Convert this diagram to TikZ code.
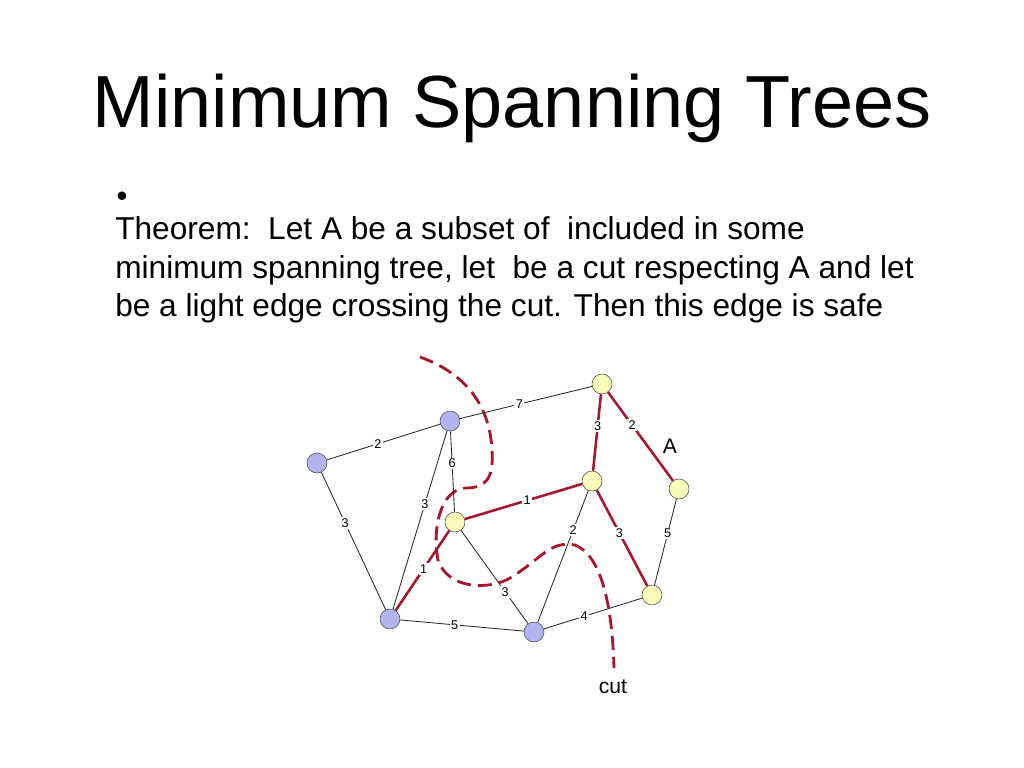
\documentclass[tikz,border=0pt]{standalone}
\usepackage{fontspec}
\setmainfont{Liberation Sans}
\usetikzlibrary{calc}
\definecolor{cutred}{RGB}{170,20,45}
\definecolor{blueV}{RGB}{178,180,240}
\definecolor{yellowV}{RGB}{250,250,185}
\begin{document}
\begin{tikzpicture}[x=0.025cm,y=-0.025cm]
\tikzset{bluenode/.style={circle,draw=black!70,fill=blueV,minimum size=20*0.025cm,inner sep=0pt},
yellownode/.style={circle,draw=black!70,fill=yellowV,minimum size=20*0.025cm,inner sep=0pt},
edgelbl/.style={fill=white,inner sep=1pt,font=\fontsize{9}{10}\selectfont},
lightedge/.style={draw=black!85,line width=0.6pt},
safeedge/.style={draw=cutred,line width=1.8pt},
cutline/.style={draw=cutred,line width=2pt,dash pattern=on 10pt off 5pt}}
\useasboundingbox (0,0) rectangle (1024,768);

% Title and text
\node (title) at (512,108) {\fontsize{52.5}{58}\selectfont Minimum Spanning Trees};
\node[inner sep=0pt] (bullet) at (122,199) {\fontsize{22}{24}\selectfont\textbullet};
\node[anchor=north west,align=left,inner sep=0pt,font=\fontsize{22.5}{27.6}\selectfont] (thm) at (115,216)
  {Theorem:\ \ Let A be a subset of\ \ included in some\\
   minimum spanning tree, let\ \ be a cut respecting A and let\\
   be a light edge crossing the cut. Then this edge is safe};

% Cut curve
\draw[cutline] (420,357) .. controls (470,375) and (490,410) .. (492,450)
  .. controls (494,480) and (485,488) .. (465,488)
  .. controls (440,490) and (432,530) .. (438,560)
  .. controls (448,590) and (490,590) .. (510,578)
  .. controls (540,560) and (550,540) .. (575,545)
  .. controls (600,555) and (612,600) .. (614,668);

% Vertices
\node[bluenode] (v1) at (317,463) {};
\node[bluenode] (v2) at (450,421) {};
\node[bluenode] (v3) at (390,619) {};
\node[bluenode] (v4) at (534,632) {};
\node[yellownode] (y1) at (602,384) {};
\node[yellownode] (y2) at (455,522) {};
\node[yellownode] (y3) at (592,481) {};
\node[yellownode] (y4) at (679,489) {};
\node[yellownode] (y5) at (652,595) {};

% Edges
\draw[lightedge] (v1) -- node[edgelbl,pos=0.45]{2} (v2);
\draw[lightedge] (v2) -- node[edgelbl,pos=0.45]{7} (y1);
\draw[lightedge] (v1) -- node[edgelbl,pos=0.37]{3} (v3);
\draw[lightedge] (v2) -- node[edgelbl,pos=0.41]{3} (v3);
\draw[lightedge] (v2) -- node[edgelbl,pos=0.4]{6} (y2);
\draw[lightedge] (y2) -- node[edgelbl,pos=0.66]{3} (v4);
\draw[lightedge] (v3) -- node[edgelbl,pos=0.44]{5} (v4);
\draw[lightedge] (v4) -- node[edgelbl,pos=0.7]{2} (y3);
\draw[lightedge] (v4) -- node[edgelbl,pos=0.41]{4} (y5);
\draw[lightedge] (y4) -- node[edgelbl,pos=0.4]{5} (y5);
\draw[safeedge] (y2) -- node[edgelbl,pos=0.53]{1} (y3);
\draw[safeedge] (y2) -- node[edgelbl,pos=0.48]{1} (v3);
\draw[safeedge] (y1) -- node[edgelbl,pos=0.42]{3} (y3);
\draw[safeedge] (y1) -- node[edgelbl,pos=0.37]{2} (y4);
\draw[safeedge] (y3) -- node[edgelbl,pos=0.45]{3} (y5);

% Labels
\node (lblA) at (670,446) {\fontsize{15}{17}\selectfont A};
\node (lblcut) at (613,687) {\fontsize{15}{17}\selectfont cut};
\end{tikzpicture}
\end{document}
